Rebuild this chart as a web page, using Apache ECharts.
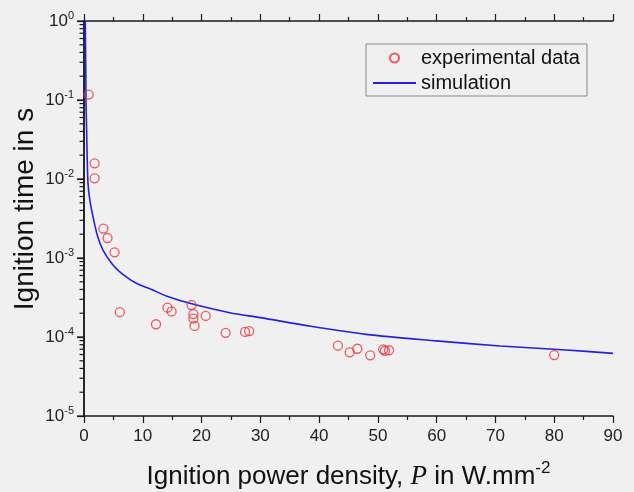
<!DOCTYPE html>
<html><head><meta charset="utf-8">
<script src="https://cdn.jsdelivr.net/npm/echarts@6/dist/echarts.min.js"></script>
<style>html,body{margin:0;padding:0;background:#f0f0f0;}#c{width:634px;height:492px;}</style>
</head><body><div id="c"></div>
<script>
// experimental data: power density (W/mm^2), ignition time (s)
const expP = [0.8, 1.8, 1.8, 3.3, 4.0, 5.2, 6.1, 12.25, 14.2, 14.9, 18.3, 18.6, 18.6, 18.8, 20.7, 24.1, 27.4, 28.1, 43.2, 45.2, 46.5, 48.7, 50.9, 51.2, 51.9, 80.0];
const expT = [0.117, 0.0158, 0.0102, 0.00236, 0.00179, 0.00118, 2.06e-4, 1.45e-4, 2.35e-4, 2.11e-4, 2.54e-4, 1.95e-4, 1.71e-4, 1.38e-4, 1.85e-4, 1.13e-4, 1.16e-4, 1.19e-4, 7.76e-5, 6.4e-5, 7.1e-5, 5.86e-5, 6.98e-5, 6.7e-5, 6.8e-5, 5.9e-5];
// simulation curve
const simP = [0.22, 0.3, 0.34, 0.45, 0.51, 0.68, 1.0, 1.53, 2.3, 3.23, 4.93, 6.5, 8.9, 11.5, 14, 18, 24.8, 30, 38.5, 48, 59.4, 70.8, 82, 90];
const simT = [1.0, 0.25, 0.1, 0.04, 0.0233, 8.8e-3, 5.4e-3, 3.33e-3, 1.9e-3, 1.26e-3, 8.15e-4, 6.3e-4, 4.78e-4, 4.0e-4, 3.3e-4, 2.67e-4, 2.03e-4, 1.76e-4, 1.37e-4, 1.08e-4, 9.0e-5, 7.7e-5, 6.85e-5, 6.2e-5];
// axis ticks
const xTicks = [0, 10, 20, 30, 40, 50, 60, 70, 80, 90];
const yDecades = [1e-5, 1e-4, 1e-3, 1e-2, 1e-1, 1];
const yMinorMult = [2, 3, 4, 5, 6, 7, 8, 9];

const yMin = yDecades[0], yMax = yDecades[yDecades.length - 1];
const yMinorTicks = [];
yDecades.slice(0, -1).forEach(d => yMinorMult.forEach(m => yMinorTicks.push(d * m)));

const chart = echarts.init(document.getElementById('c'), null, {renderer: 'canvas'});
const axisCol = '#1a1a1a';
const font = 'Liberation Sans, Arial, sans-serif';
const supFmt = v => {
  const e = Math.round(Math.log10(v));
  return '{b|10}{s|' + e + '}';
};
chart.setOption({
  backgroundColor: '#f0f0f0',
  animation: false,
  grid: {left: 84, top: 21, right: 21, bottom: 76, outerBoundsMode: 'none', containLabel: false},
  legend: {
    orient: 'vertical', left: 366, top: 44,
    padding: [4, 7, 3, 7], itemGap: 5,
    borderColor: '#888', borderWidth: 1,
    itemWidth: 43, itemHeight: 9,
    textStyle: {fontFamily: font, fontSize: 20, color: '#111', lineHeight: 20},
    data: [
      {name: 'experimental data'},
      {name: 'simulation', icon: 'path://M0,0L0.01,0L0.01,0.01Z M0,3.6L43,3.6L43,5.4L0,5.4Z M43,9L42.99,9L42.99,8.99Z'}
    ]
  },
  xAxis: [{
    type: 'value', min: xTicks[0], max: xTicks[xTicks.length - 1], interval: 10,
    position: 'bottom',
    axisLine: {lineStyle: {color: axisCol, width: 1.5}},
    axisTick: {inside: false, length: 7, lineStyle: {color: axisCol, width: 1.2}},
    minorTick: {show: true, splitNumber: 2, length: 4, lineStyle: {color: axisCol, width: 1.2}},
    splitLine: {show: false},
    axisLabel: {margin: 12, fontFamily: font, fontSize: 17, color: '#222'},
    name: '{a|Ignition power density, }{p|P}{a| in W.mm}{s|-2}',
    nameLocation: 'middle', nameGap: 44,
    nameTextStyle: {
      rich: {
        a: {fontFamily: font, fontSize: 26, color: '#111'},
        p: {fontFamily: 'Liberation Serif, Times New Roman, serif', fontStyle: 'italic', fontSize: 27, color: '#111'},
        s: {fontFamily: font, fontSize: 17, color: '#111', padding: [0, 0, 16, 0]}
      }
    }
  }, {
    type: 'value', min: xTicks[0], max: xTicks[xTicks.length - 1], interval: 10,
    position: 'top',
    axisLine: {lineStyle: {color: axisCol, width: 1.5}},
    axisTick: {inside: false, length: 7, lineStyle: {color: axisCol, width: 1.2}},
    minorTick: {show: true, splitNumber: 2, length: 4, lineStyle: {color: axisCol, width: 1.2}},
    splitLine: {show: false},
    axisLabel: {show: false}
  }],
  yAxis: [{
    type: 'log', logBase: 10, min: yMin, max: yMax,
    position: 'left',
    axisLine: {show: true, lineStyle: {color: axisCol, width: 1.5}},
    axisTick: {show: true, inside: false, length: 7, lineStyle: {color: axisCol, width: 1.2}},
    splitLine: {show: false},
    axisLabel: {
      margin: 10, formatter: supFmt,
      rich: {
        b: {fontFamily: font, fontSize: 17, color: '#222'},
        s: {fontFamily: font, fontSize: 11, color: '#222', padding: [0, 0, 10, 0]}
      }
    }
  }, {
    type: 'log', logBase: 10, min: yMin, max: yMax,
    position: 'right',
    axisLine: {show: true, lineStyle: {color: axisCol, width: 1.5}},
    axisTick: {show: false}, axisLabel: {show: false}, splitLine: {show: false}
  }],
  series: [{
    name: 'simulation', type: 'line', xAxisIndex: 0, yAxisIndex: 0,
    data: simP.map((p, i) => [p, simT[i]]),
    symbol: 'none', smooth: 0.3,
    lineStyle: {color: '#2222dd', width: 1.6},
    itemStyle: {color: '#2222dd'},
    z: 2
  }, {
    name: 'experimental data', type: 'scatter', xAxisIndex: 0, yAxisIndex: 0,
    data: expP.map((p, i) => [p, expT[i]]),
    symbol: 'circle', symbolSize: 9,
    itemStyle: {color: 'rgba(0,0,0,0)', borderColor: '#e8353c', borderWidth: 1.3},
    z: 3
  }]
});

// y-axis ticks (major + minor) positioned through the chart's own log scale
const tickEl = (v, len) => {
  const p = chart.convertToPixel({xAxisIndex: 0, yAxisIndex: 0}, [xTicks[0], v]);
  return {
    type: 'line', z: 100, silent: true,
    shape: {x1: p[0] - len, y1: p[1], x2: p[0], y2: p[1]},
    style: {stroke: axisCol, lineWidth: 1.2}
  };
};
const els = [{
  type: 'text', x: 25, y: 209, rotation: Math.PI / 2, z: 100,
  style: {text: 'Ignition time in s', font: '28px Liberation Sans, Arial, sans-serif', fill: '#111', align: 'center', verticalAlign: 'middle'}
}];
yDecades.forEach(v => els.push(tickEl(v, 7)));
yMinorTicks.forEach(v => els.push(tickEl(v, 4.5)));
chart.setOption({graphic: {elements: els}});
</script></body></html>
